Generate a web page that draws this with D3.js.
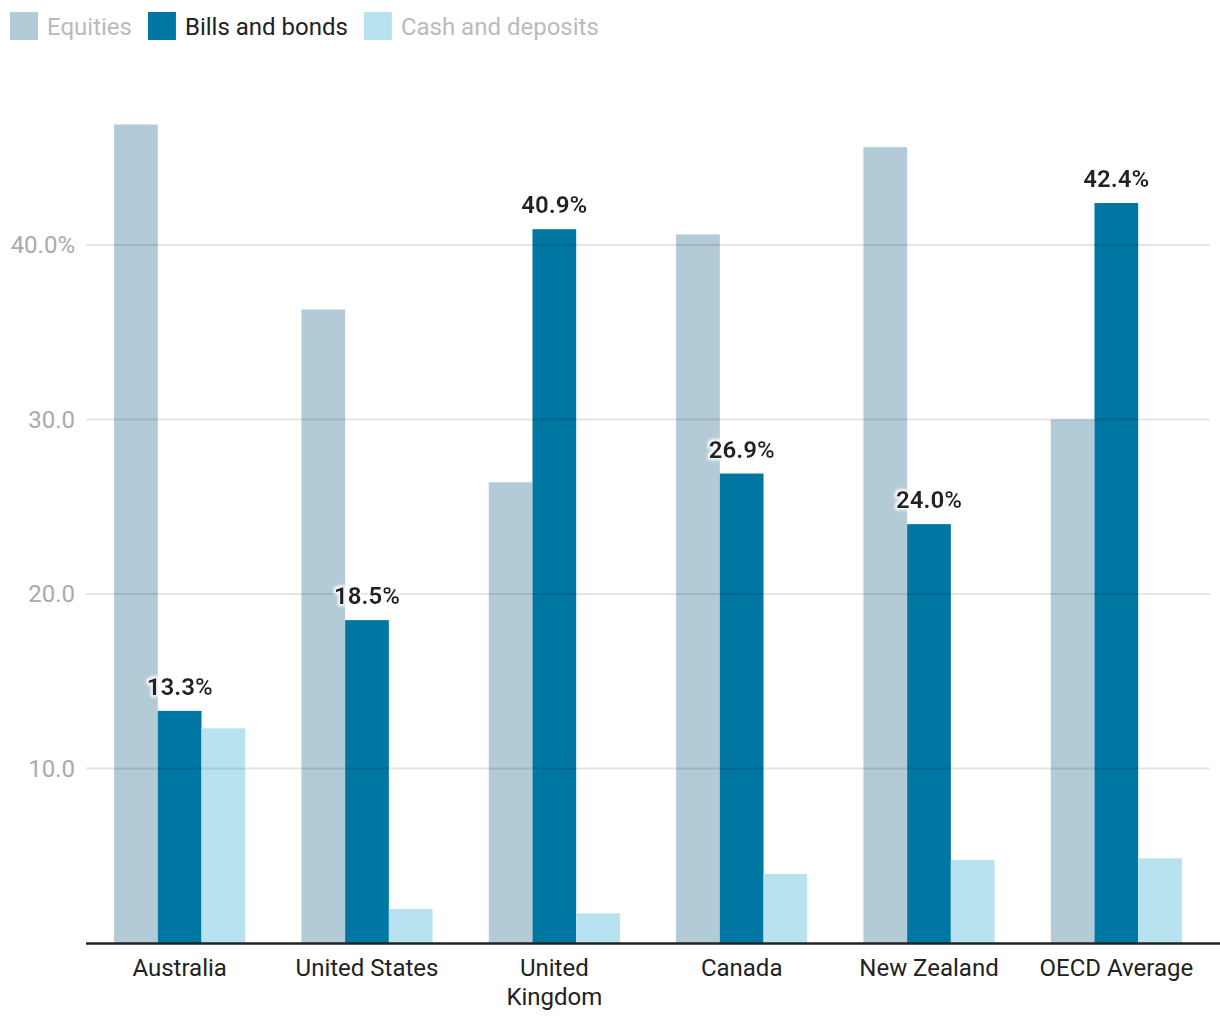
<!DOCTYPE html>
<html><head><meta charset="utf-8">
<script src="https://cdn.jsdelivr.net/npm/d3@7"></script>
<style>body{margin:0;background:#fff;font-family:Roboto,"Noto Sans",sans-serif;}</style>
</head><body>
<svg id="c" width="1220" height="1020"></svg>
<script>
const categories = ["Australia","United States","United Kingdom","Canada","New Zealand","OECD Average"];
const categoryLines = [["Australia"],["United States"],["United","Kingdom"],["Canada"],["New Zealand"],["OECD Average"]];
const seriesNames = ["Equities","Bills and bonds","Cash and deposits"];
const equities = [46.9, 36.3, 26.4, 40.6, 45.6, 30.0];
const billsBonds = [13.3, 18.5, 40.9, 26.9, 24.0, 42.4];
const cashDeposits = [12.3, 1.95, 1.7, 3.95, 4.75, 4.85];
const yTicks = [10, 20, 30, 40];
const colors = ["#b3cad7", "#0077a3", "#b9e2f0"];

(function(){
const series = [equities, billsBonds, cashDeposits];
const svg = d3.select("#c");
const mLeft = 86, mRight = 1210, mTop = 40, mBottom = 943;
const x0 = d3.scaleBand().domain(categories).range([mLeft, mRight]).paddingInner(0.3).paddingOuter(0.15);
const x1 = d3.scaleBand().domain(seriesNames).range([0, x0.bandwidth()]);
const y = d3.scaleLinear().domain([0, 51.74]).range([mBottom, mTop]);

const defs = svg.append("defs");
const f = defs.append("filter").attr("id", "halo").attr("x", "-20%").attr("y", "-40%").attr("width", "140%").attr("height", "180%");
f.append("feMorphology").attr("in", "SourceAlpha").attr("operator", "dilate").attr("radius", 2).attr("result", "d");
f.append("feGaussianBlur").attr("in", "d").attr("stdDeviation", 1.5).attr("result", "b");
f.append("feFlood").attr("flood-color", "#fff").attr("result", "w");
f.append("feComposite").attr("in", "w").attr("in2", "b").attr("operator", "in").attr("result", "h");
const fm = f.append("feMerge");
fm.append("feMergeNode").attr("in", "h");
fm.append("feMergeNode").attr("in", "SourceGraphic");

categories.forEach((c, i) => {
  const g = svg.append("g").attr("transform", `translate(${x0(c)},0)`);
  seriesNames.forEach((s, j) => {
    g.append("rect").attr("x", x1(s)).attr("width", x1.bandwidth())
      .attr("y", y(series[j][i])).attr("height", mBottom - y(series[j][i]))
      .attr("fill", colors[j]);
  });
});

svg.append("g").selectAll("line").data(yTicks).join("line")
  .attr("x1", mLeft).attr("x2", mRight).attr("y1", d => y(d)).attr("y2", d => y(d))
  .attr("stroke", "#000").attr("stroke-opacity", 0.1).attr("stroke-width", 2);

svg.append("g").selectAll("text").data(yTicks).join("text")
  .attr("x", 75).attr("y", d => y(d)).attr("dy", "0.35em").attr("text-anchor", "end")
  .attr("font-size", 24).attr("fill", "#aaaaaa")
  .text(d => d === 40 ? d3.format(".1f")(d) + "%" : d3.format(".1f")(d));

svg.append("line").attr("x1", mLeft).attr("x2", 1220).attr("y1", mBottom + 0.5).attr("y2", mBottom + 0.5)
  .attr("stroke", "#222").attr("stroke-width", 2.5);

categories.forEach((c, i) => {
  const cx = x0(c) + x0.bandwidth() / 2;
  const t = svg.append("text").attr("x", cx).attr("y", 976)
    .attr("text-anchor", "middle").attr("font-size", 24).attr("fill", "#222");
  categoryLines[i].forEach((l, k) => {
    t.append("tspan").attr("x", cx).attr("dy", k === 0 ? 0 : 29).text(l);
  });
});

categories.forEach((c, i) => {
  const cx = x0(c) + x1(seriesNames[1]) + x1.bandwidth() / 2;
  svg.append("text").attr("x", cx).attr("y", y(billsBonds[i]) - 16)
    .attr("text-anchor", "middle").attr("font-size", 24).attr("font-weight", "bold")
    .attr("fill", "#222").attr("filter", "url(#halo)")
    .text(d3.format(".1f")(billsBonds[i]) + "%");
});

let lx = 10;
seriesNames.forEach((s, j) => {
  svg.append("rect").attr("x", lx).attr("y", 12).attr("width", 28).attr("height", 28).attr("fill", colors[j]);
  const t = svg.append("text").attr("x", lx + 37).attr("y", 35).attr("font-size", 24)
    .attr("fill", j === 1 ? "#222" : "#bbbbbb").text(s);
  lx = lx + 37 + t.node().getComputedTextLength() + 16;
});
})();
</script>
</body></html>
